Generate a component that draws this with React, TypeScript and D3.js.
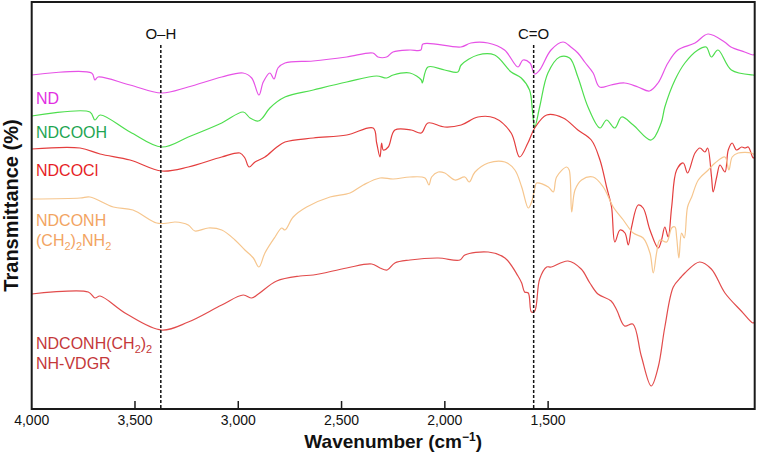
import React from 'react';
import * as d3 from 'd3';

// wavenumber (cm^-1), transmittance (a.u., offset traces)
const ND: [number, number][] = [
  [4000,334],[3710,336],[3694,329],[3679,332],[3524,324],[3371,316],[3243,322],[3080,332],[2977,336],[2935,331],
  [2900,314],[2879,327],[2847,336],[2827,330],[2808,341],[2774,346],[2638,348],[2475,352],[2348,356],[2324,352],
  [2282,352],[2251,357],[2169,359],[2116,359],[2106,365],[1922,362],[1874,366],[1791,366],[1711,359],[1646,342],
  [1622,349],[1588,346],[1565,335],[1541,339],[1486,359],[1428,367],[1390,362],[1356,356],[1323,347],[1282,336],
  [1251,322],[1196,324],[1130,326],[1065,322],[1009,318],[968,326],[920,346],[872,359],[789,366],[726,375],
  [646,367],[615,362],[549,357],[507,354],[500,355],
];

const NDCOOH: [number, number][] = [
  [4000,293],[3718,297],[3694,289],[3669,294],[3524,277],[3371,262],[3242,272],[3080,286],[2976,297],[2943,291],
  [2903,288],[2879,292],[2847,301],[2774,312],[2637,319],[2475,327],[2330,333],[2282,331],[2250,334],[2169,336],
  [2114,329],[2109,326],[2082,342],[2001,339],[1937,337],[1921,344],[1840,354],[1759,354],[1679,337],[1630,331],
  [1590,319],[1575,296],[1565,282],[1541,302],[1501,336],[1444,352],[1396,351],[1356,332],[1307,302],[1249,281],
  [1217,289],[1177,281],[1144,292],[1088,284],[1001,269],[953,286],[935,302],[886,329],[838,346],[775,359],
  [735,362],[710,352],[678,359],[613,339],[508,334],[500,334],
];

const NDCOCl: [number, number][] = [
  [4000,260],[3766,261],[3669,255],[3524,249],[3371,238],[3242,242],[3080,252],[2992,256],[2968,251],[2948,242],
  [2919,247],[2871,252],[2813,262],[2774,267],[2637,271],[2475,274],[2347,281],[2330,266],[2314,252],[2306,266],
  [2298,259],[2274,262],[2242,279],[2163,279],[2114,276],[2082,286],[2001,282],[1921,284],[1840,292],[1759,291],
  [1679,276],[1638,252],[1598,266],[1565,281],[1507,294],[1427,291],[1356,279],[1291,269],[1249,249],[1217,222],
  [1193,202],[1177,167],[1152,179],[1128,176],[1112,164],[1096,182],[1064,204],[1040,201],[1007,179],[967,161],
  [951,169],[935,182],[919,172],[902,202],[878,239],[846,246],[825,236],[789,256],[765,261],[741,257],
  [728,261],[709,232],[701,217],[684,232],[668,244],[644,237],[628,259],[609,266],[588,259],[563,262],
  [547,261],[531,262],[507,251],[500,252],
];

const NDCONH: [number, number][] = [
  [4000,210],[3766,211],[3718,212],[3605,202],[3510,199],[3395,186],[3339,186],[3306,187],[3242,184],[3210,178],
  [3145,181],[3080,179],[3016,169],[2968,159],[2927,151],[2900,142],[2871,156],[2822,172],[2790,181],[2774,179],
  [2734,192],[2669,202],[2556,212],[2459,216],[2395,224],[2314,231],[2250,230],[2169,232],[2096,231],[2077,224],
  [2064,232],[2032,237],[2000,236],[1951,229],[1903,232],[1882,227],[1854,237],[1790,246],[1709,247],[1661,239],
  [1628,222],[1596,201],[1580,207],[1564,221],[1556,226],[1499,222],[1475,217],[1459,232],[1410,242],[1398,239],
  [1386,197],[1370,219],[1338,229],[1282,232],[1233,222],[1185,202],[1136,189],[1088,176],[1040,171],[1007,156],
  [991,136],[975,156],[959,169],[926,167],[902,181],[886,182],[878,172],[867,151],[854,176],[841,171],
  [825,202],[805,212],[773,229],[725,239],[692,246],[644,252],[625,239],[609,252],[580,256],[515,256],[500,254],
];

const VDGR: [number, number][] = [
  [4000,115],[3726,117],[3694,111],[3669,113],[3540,95],[3371,79],[3242,87],[3080,104],[2976,114],[2935,111],
  [2903,115],[2814,128],[2701,133],[2637,134],[2475,141],[2354,145],[2314,141],[2279,139],[2242,146],[2169,149],
  [2032,151],[1927,149],[1903,154],[1790,157],[1709,151],[1646,133],[1628,126],[1614,117],[1596,116],[1581,97],
  [1565,98],[1541,130],[1507,142],[1485,142],[1404,148],[1340,140],[1298,126],[1259,115],[1195,108],[1168,99],
  [1130,83],[1090,85],[1049,53],[1001,23],[967,42],[935,82],[894,122],[856,132],[838,136],[767,147],
  [710,140],[644,116],[565,98],[509,86],[500,87],
];

const seriesNames = ['ND', 'NDCOOH', 'NDCOCl', 'NDCONH(CH2)2NH2', 'NDCONH(CH2)2NH-VDGR'];
const seriesData = [ND, NDCOOH, NDCOCl, NDCONH, VDGR];
const lineColors = ['#e652e6', '#4ede4e', '#e43e3e', '#f6c68e', '#e24c4c'];
const labelColors = ['#e22ee2', '#1ea552', '#e61e26', '#f2a462', '#c4383a'];

const xTickValues = [4000, 3500, 3000, 2500, 2000, 1500];
const xTickLabels = ['4,000', '3,500', '3,000', '2,500', '2,000', '1,500'];

const markers = [3375, 1570];
const markerLabels = ['O\u2013H', 'C=O'];

const W = 757;
const H = 458;
const L = 31.7;
const R = 754.7;
const T = 2;
const B = 409;

export default function App() {
  const x = d3.scaleLinear().domain([4000, 500]).range([L, R]);
  const y = d3.scaleLinear().domain([0, 407]).range([B, T]);
  const line = d3
    .line<[number, number]>()
    .x(d => x(d[0]))
    .y(d => y(d[1]))
    .curve(d3.curveCatmullRom.alpha(0.5));
  const font = 'Liberation Sans, Arial, Helvetica, sans-serif';

  const sub = (t: string) => (
    <tspan fontSize={11} dy={4}>{t}</tspan>
  );
  const up = (t: string) => (
    <tspan dy={-4}>{t}</tspan>
  );

  return (
    <svg width={W} height={H} style={{ position: 'fixed', left: 0, top: 0, background: '#fff' }} fontFamily={font}>
      <rect x={0} y={0} width={W} height={H} fill="#fff" />
      <g fill="none" strokeWidth={1.2} strokeLinejoin="round">
        {seriesData.map((d, i) => (
          <path key={seriesNames[i]} d={line(d) || ''} stroke={lineColors[i]} />
        ))}
      </g>
      {markers.map((m, i) => (
        <g key={markerLabels[i]}>
          <line x1={x(m)} x2={x(m)} y1={45} y2={B} stroke="#111" strokeWidth={1.5} strokeDasharray="3,2" />
          <text x={x(m)} y={39} textAnchor="middle" fontSize={15} fill="#111">{markerLabels[i]}</text>
        </g>
      ))}
      <rect x={L} y={T} width={R - L} height={B - T} fill="none" stroke="#1a1a1a" strokeWidth={2} />
      {xTickValues.map((v, i) => (
        <g key={v}>
          {v !== 4000 && <line x1={x(v)} x2={x(v)} y1={B} y2={B - 8} stroke="#1a1a1a" strokeWidth={1.5} />}
          <text x={x(v)} y={425} textAnchor="middle" fontSize={14} fill="#111">{xTickLabels[i]}</text>
        </g>
      ))}
      <text x={(L + R) / 2} y={448} textAnchor="middle" fontSize={19} fontWeight="bold" fill="#111">
        Wavenumber (cm<tspan fontSize={12} dy={-7}>{'\u22121'}</tspan><tspan dy={7}>)</tspan>
      </text>
      <text transform={`translate(18,${(T + B) / 2}) rotate(-90)`} textAnchor="middle" fontSize={20} fontWeight="bold" fill="#111">
        Transmittance (%)
      </text>
      <g fontSize={16}>
        <text x={36} y={104} fill={labelColors[0]}>ND</text>
        <text x={36} y={138} fill={labelColors[1]}>NDCOOH</text>
        <text x={36} y={176} fill={labelColors[2]}>NDCOCl</text>
        <text x={36} y={226} fill={labelColors[3]}>NDCONH</text>
        <text x={36} y={246} fill={labelColors[3]}>
          (CH{sub('2')}{up(')')}{sub('2')}{up('NH')}{sub('2')}
        </text>
        <text x={36} y={349} fill={labelColors[4]}>
          NDCONH(CH{sub('2')}{up(')')}{sub('2')}
        </text>
        <text x={36} y={369} fill={labelColors[4]}>NH-VDGR</text>
      </g>
    </svg>
  );
}
